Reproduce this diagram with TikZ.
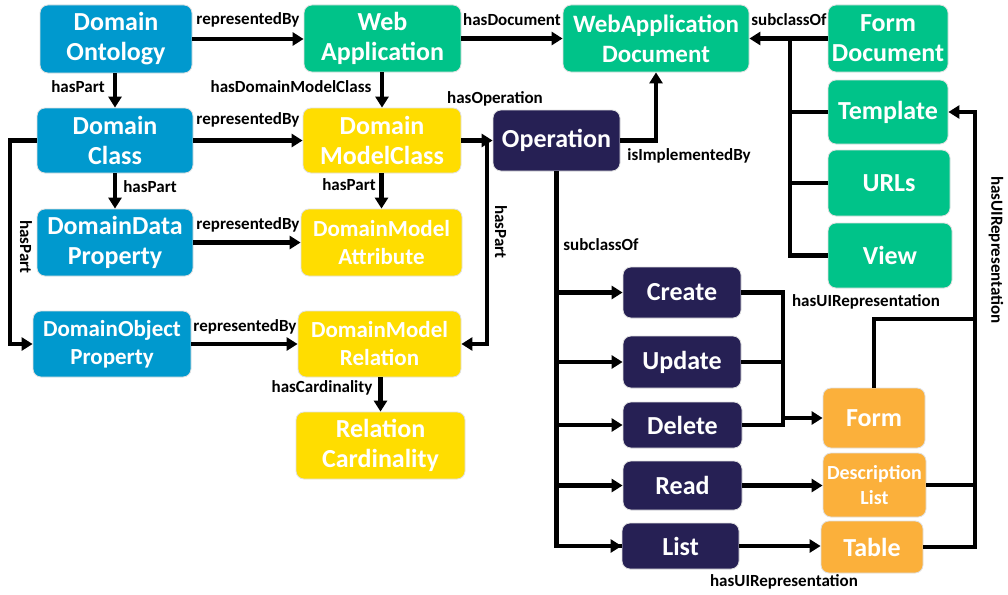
\documentclass[tikz,border=0pt]{standalone}
\usepackage{fontspec}
\setmainfont{Carlito}
\usetikzlibrary{arrows.meta}
\definecolor{cblue}{RGB}{0,153,206}
\definecolor{cgreen}{RGB}{0,195,137}
\definecolor{cyellow}{RGB}{255,221,0}
\definecolor{cnavy}{RGB}{38,32,84}
\definecolor{corange}{RGB}{251,176,59}
\begin{document}
\begin{tikzpicture}[x=1pt,y=-1pt,
 box/.style={draw=black!12, line width=0.8pt, rounded corners=8pt, fill=#1, text=white,
   font=\bfseries\fontsize{26}{30}\selectfont, align=center, inner sep=0pt},
 sbox/.style={box=#1, font=\bfseries\fontsize{23}{28}\selectfont},
 lbl/.style={font=\bfseries\fontsize{17}{20}\selectfont, text=black, inner sep=0pt},
 arr/.style={line width=4.2pt, -{Triangle[length=11pt,width=13pt]}},
 ln/.style={line width=4.2pt}]
\fill[white] (0,0) rectangle (1008,594);
\useasboundingbox (0,0) rectangle (1008,594);

% nodes
\node[box=cblue, minimum width=152pt, minimum height=68pt] (DO) at (116,39) {Domain\\Ontology};
\node[box=cgreen, minimum width=157pt, minimum height=67pt] (WA) at (382.5,38.5) {Web\\Application};
\node[box=cgreen, minimum width=186pt, minimum height=67pt, font=\bfseries\fontsize{25}{30}\selectfont] (WAD) at (656,38.5) {WebApplication\\Document};
\node[box=cgreen, minimum width=120pt, minimum height=67pt] (FD) at (888,38.5) {Form\\Document};
\node[box=cgreen, minimum width=120pt, minimum height=64pt] (Tpl) at (888,112) {Template};
\node[box=cgreen, minimum width=122pt, minimum height=66pt] (URLs) at (889,183) {URLs};
\node[box=cgreen, minimum width=124pt, minimum height=65pt] (View) at (890,255.5) {View};
\node[box=cblue, minimum width=156pt, minimum height=65pt] (DC) at (115,140.5) {Domain\\Class};
\node[box=cyellow, minimum width=158pt, minimum height=65pt] (DMC) at (382,140.5) {Domain\\ModelClass};
\node[box=cnavy, minimum width=127pt, minimum height=61pt] (Op) at (556.5,140.5) {Operation};
\node[box=cblue, minimum width=156pt, minimum height=67pt] (DDP) at (115,242.5) {DomainData\\Property};
\node[sbox=cyellow, minimum width=161pt, minimum height=67pt] (DMA) at (381.5,242.5) {DomainModel\\Attribute};
\node[sbox=cblue, minimum width=158pt, minimum height=66pt] (DOP) at (112,344) {DomainObject\\Property};
\node[sbox=cyellow, minimum width=163pt, minimum height=66pt] (DMR) at (379.5,344) {DomainModel\\Relation};
\node[box=cyellow, minimum width=169pt, minimum height=67pt] (RC) at (380.5,445.5) {Relation\\Cardinality};
\node[box=cnavy, minimum width=118pt, minimum height=51pt] (Create) at (682,292.5) {Create};
\node[box=cnavy, minimum width=118pt, minimum height=52pt] (Update) at (682,362) {Update};
\node[box=cnavy, minimum width=119pt, minimum height=46pt] (Delete) at (682.5,425) {Delete};
\node[box=cnavy, minimum width=119pt, minimum height=49pt] (Read) at (682.5,485.5) {Read};
\node[box=cnavy, minimum width=117pt, minimum height=46pt] (List) at (680.5,546) {List};
\node[box=corange, minimum width=102pt, minimum height=60pt] (Form) at (874,418) {Form};
\node[box=corange, minimum width=103pt, minimum height=64pt, font=\bfseries\fontsize{20}{25}\selectfont] (DL) at (874.5,485) {Description\\List};
\node[box=corange, minimum width=102pt, minimum height=52pt] (Table) at (872,547) {Table};

% junction coordinates
\coordinate (jDC) at (10,140.5);
\coordinate (jDMC) at (487,140.5);
\coordinate (jFD) at (790,38.5);
\coordinate (jUI) at (783,418);
\coordinate (jTp) at (975,319);

% connectors
\draw[arr] (DO.east) -- (DO.east -| WA.west);
\draw[arr] (WA.east) -- (WAD.west);
\draw[arr] (FD.west) -- (WAD.east);
\draw[ln] (jFD) |- (View.west);
\draw[ln] (Tpl.west) -- (Tpl.west -| jFD);
\draw[ln] (URLs.west) -- (URLs.west -| jFD);
\draw[arr] (DO.south -| DC.north) -- (DC.north);
\draw[arr] (WA.south -| DMC.north) -- (DMC.north);
\draw[arr] (DC.east) -- (DMC.west);
\draw[arr] (DC.south) -- (DDP.north);
\draw[arr] (DMC.south -| DMA.north) -- (DMA.north);
\draw[arr] (DDP.east) -- (DMA.west);
\draw[arr] (DC.west) -- (jDC) |- (DOP.west);
\draw[arr] (DOP.east) -- (DOP.east -| DMR.west);
\draw[arr] (DMR.south -| RC.north) -- (RC.north);
\draw[arr] (DMC.east) -- (Op.west);
\draw[arr] (DMC.east) -- (jDMC) |- (DMR.east);
\draw[arr] (Op.east) -| (WAD.south);
\draw[ln] (Op.south) |- (List.west);
\draw[arr] (Op.south |- Create.west) -- (Create.west);
\draw[arr] (Op.south |- Update.west) -- (Update.west);
\draw[arr] (Op.south |- Delete.west) -- (Delete.west);
\draw[arr] (Op.south |- Read.west) -- (Read.west);
\draw[arr] (Op.south |- List.west) -- (List.west);
\draw[arr] (Create.east) -| (jUI) -- (jUI -| Form.west);
\draw[ln] (Update.east) -- (Update.east -| jUI);
\draw[ln] (Delete.east) -| (jUI);
\draw[arr] (Read.east) -- (Read.east -| DL.west);
\draw[arr] (List.east) -- (List.east -| Table.west);
\draw[arr] (Form.north) |- (jTp) |- (Tpl.east);
\draw[ln] (DL.east) -- (DL.east -| jTp);
\draw[ln] (Table.east) -| (jTp);

% labels
\node[lbl] (l1) at (248,20) {representedBy};
\node[lbl] (l2) at (512,20) {hasDocument};
\node[lbl] (l3) at (789,20) {subclassOf};
\node[lbl] (l4) at (78,87) {hasPart};
\node[lbl] (l5) at (291,87) {hasDomainModelClass};
\node[lbl] (l6) at (248,120) {representedBy};
\node[lbl] (l7) at (150,187) {hasPart};
\node[lbl] (l8) at (349,185) {hasPart};
\node[lbl] (l9) at (248,225) {representedBy};
\node[lbl, rotate=-90] (l10) at (26,247) {hasPart};
\node[lbl] (l11) at (245,327) {representedBy};
\node[lbl] (l12) at (322,388) {hasCardinality};
\node[lbl] (l13) at (495,99) {hasOperation};
\node[lbl, rotate=-90] (l14) at (501,232) {hasPart};
\node[lbl] (l15) at (689,156) {isImplementedBy};
\node[lbl] (l16) at (601,245) {subclassOf};
\node[lbl] (l17) at (866,302) {hasUIRepresentation};
\node[lbl] (l18) at (784,582) {hasUIRepresentation};
\node[lbl, rotate=-90] (l19) at (996,250) {hasUIRepresentation};
\end{tikzpicture}
\end{document}
